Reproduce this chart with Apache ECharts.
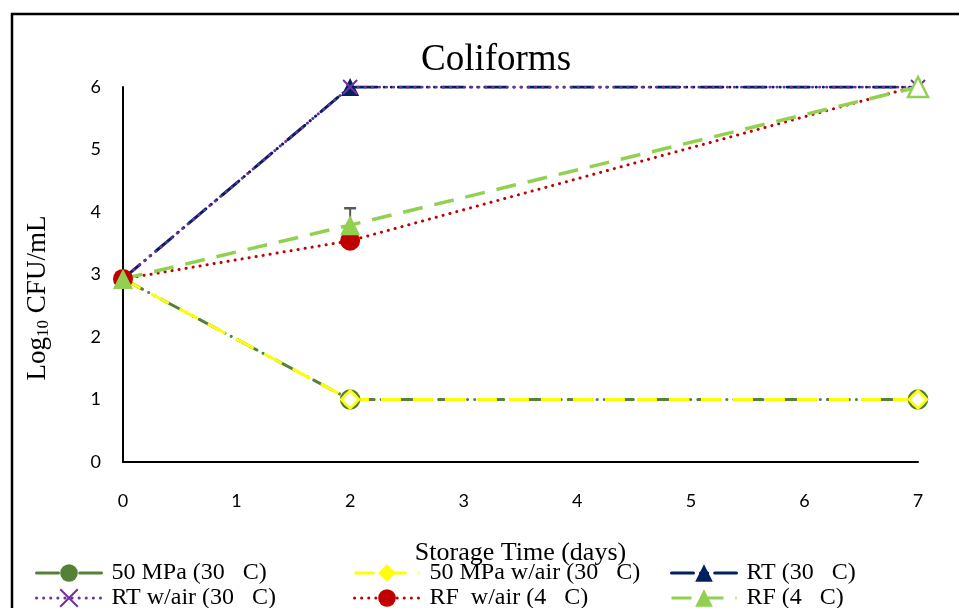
<!DOCTYPE html>
<html>
<head>
<meta charset="utf-8">
<script src="https://cdn.jsdelivr.net/npm/echarts@6/dist/echarts.min.js"></script>
<style>html,body{margin:0;padding:0;background:#fff}#c{width:959px;height:608px}</style>
</head>
<body>
<div id="c"></div>
<script>
const days = [0, 2, 7];
const xTicks = [0, 1, 2, 3, 4, 5, 6, 7];
const yTicks = [0, 1, 2, 3, 4, 5, 6];
const seriesNames = ['50 MPa (30   C)', '50 MPa w/air (30   C)', 'RT (30   C)', 'RT w/air (30   C)', 'RF  w/air (4   C)', 'RF (4   C)'];
const mpa50 = [2.93, 1.0, 1.0];
const mpa50Air = [2.93, 1.0, 1.0];
const rt = [2.93, 6.0, 6.0];
const rtAir = [2.93, 6.0, 6.0];
const rfAir = [2.93, 3.54, 6.02];
const rf = [2.93, 3.79, 6.0];
const rfErr = [0, 0.27, 0];
const mpa50Hollow = [false, true, true];
const rfHollow = [false, false, true];

const serif = 'Liberation Serif';
function pts(vals, hollow, color) {
  return days.map((d, i) => {
    const p = { value: [d, vals[i]] };
    if (hollow && hollow[i]) p.itemStyle = { color: '#fff', borderColor: color, borderWidth: 2.5 };
    return p;
  });
}
const crossPath = 'path://M0,0L10,10M10,0L0,10';
const legendPos = [[35, 561], [353, 561], [670, 561], [35, 586], [353, 586], [670, 586]];
const legends = seriesNames.map((n, i) => ({
  data: [n], left: legendPos[i][0], top: legendPos[i][1], itemWidth: 65, itemHeight: 22, padding: 0,
  lineStyle: { width: 3 },
  textStyle: { fontFamily: serif, fontSize: 24, color: '#000', padding: [0, 0, 0, 5] }
}));

const chart = echarts.init(document.getElementById('c'));
const option = {
  animation: false,
  backgroundColor: '#fff',
  title: {
    text: 'Coliforms', left: 491, textAlign: 'center', top: 37,
    textStyle: { fontFamily: serif, fontSize: 37, fontWeight: 'normal', color: '#000' }
  },
  graphic: [
    { type: 'rect', shape: { x: 12, y: 14, width: 1000, height: 700 }, style: { fill: 'none', stroke: '#000', lineWidth: 2.5 }, silent: true },
    { type: 'text', x: 38, y: 298, rotation: Math.PI / 2, style: {
        text: '{a|Log}{s|10}{a| CFU/mL}', align: 'center', verticalAlign: 'middle',
        rich: { a: { fontFamily: serif, fontSize: 27, color: '#000' }, s: { fontFamily: serif, fontSize: 17, color: '#000', padding: [12, 0, 0, 0] } }
    } }
  ],
  grid: { left: 123, right: 41, top: 87, bottom: 146 },
  xAxis: {
    type: 'value', min: xTicks[0], max: xTicks[xTicks.length - 1], interval: 1,
    name: 'Storage Time (days)', nameLocation: 'middle', nameGap: 78,
    nameTextStyle: { fontFamily: serif, fontSize: 26, color: '#000' },
    axisLine: { lineStyle: { color: '#000', width: 2 } },
    axisTick: { show: false }, splitLine: { show: false },
    axisLabel: { margin: 30, fontFamily: 'Lato', fontSize: 18, color: '#000' }
  },
  yAxis: {
    type: 'value', min: yTicks[0], max: yTicks[yTicks.length - 1], interval: 1,
    axisLine: { show: true, lineStyle: { color: '#000', width: 2 } },
    axisTick: { show: false }, splitLine: { show: false },
    axisLabel: { margin: 22, fontFamily: 'Lato', fontSize: 18, color: '#000' }
  },
  legend: legends,
  series: [
    { name: seriesNames[0], type: 'line', data: pts(mpa50, mpa50Hollow, '#548235'), symbol: 'circle', symbolSize: 18,
      itemStyle: { color: '#548235' }, lineStyle: { color: '#548235', width: 3, type: [22, 7, 0.1, 7, 0.1, 7], cap: 'round' } },
    { name: seriesNames[1], type: 'line', data: pts(mpa50Air, mpa50Hollow, '#FFFF00'), symbol: 'diamond', symbolSize: 18,
      itemStyle: { color: '#FFFF00' }, lineStyle: { color: '#FFFF00', width: 3, type: [20, 12] } },
    { name: seriesNames[2], type: 'line', data: pts(rt), symbol: 'triangle', symbolSize: 18,
      itemStyle: { color: '#002060' }, lineStyle: { color: '#002060', width: 3, type: [22, 7, 0.1, 7, 0.1, 7], cap: 'round' } },
    { name: seriesNames[3], type: 'line', data: pts(rtAir), symbol: crossPath, symbolSize: 14,
      itemStyle: { color: 'none', borderColor: '#7030A0', borderWidth: 2 }, lineStyle: { color: '#7030A0', width: 3, type: [0.1, 7], cap: 'round' } },
    { name: seriesNames[4], type: 'line', data: pts(rfAir), symbol: 'circle', symbolSize: 20,
      itemStyle: { color: '#C00000' }, lineStyle: { color: '#C00000', width: 3, type: [0.1, 7], cap: 'round' } },
    { name: 'err', type: 'custom', data: days.map((d, i) => [d, rf[i], rfErr[i]]),
      renderItem: function (params, api) {
        const e = api.value(2);
        if (!e) return null;
        const p0 = api.coord([api.value(0), api.value(1)]);
        const p1 = api.coord([api.value(0), api.value(1) + e]);
        return { type: 'group', children: [
          { type: 'line', shape: { x1: p0[0], y1: p0[1], x2: p1[0], y2: p1[1] }, style: { stroke: '#595959', lineWidth: 2 } },
          { type: 'line', shape: { x1: p1[0] - 6, y1: p1[1], x2: p1[0] + 6, y2: p1[1] }, style: { stroke: '#595959', lineWidth: 2.5 } }
        ] };
      } },
    { name: seriesNames[5], type: 'line', data: pts(rf, rfHollow, '#92D050'), symbol: 'triangle', symbolSize: 20,
      itemStyle: { color: '#92D050' }, lineStyle: { color: '#92D050', width: 3.5, type: [20, 12] } }
  ]
};
chart.setOption(option);
</script>
</body>
</html>
